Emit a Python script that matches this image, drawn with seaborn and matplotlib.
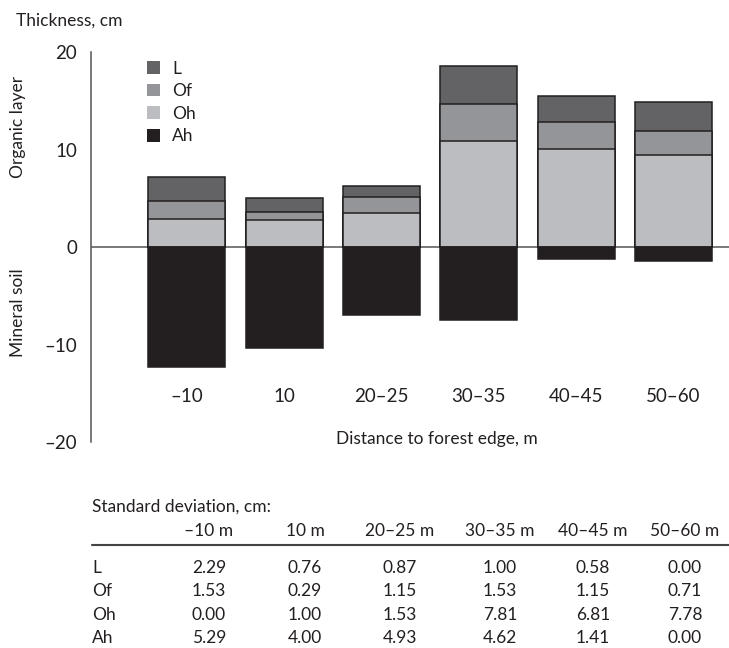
import matplotlib
matplotlib.use("Agg")
import matplotlib.pyplot as plt
import seaborn as sns
import numpy as np
import pandas as pd
from matplotlib.patches import Patch
from matplotlib.lines import Line2D

# ---- data ----
categories = ["–10", "10", "20–25", "30–35", "40–45", "50–60"]
layer_L = [2.45, 1.35, 1.15, 3.9, 2.7, 3.0]
layer_Of = [1.8, 0.85, 1.65, 3.8, 2.7, 2.5]
layer_Oh = [2.9, 2.8, 3.5, 10.9, 10.1, 9.4]
layer_Ah = [-12.25, -10.3, -6.9, -7.5, -1.2, -1.4]

sd_headers = ["–10 m", "10 m", "20–25 m", "30–35 m", "40–45 m", "50–60 m"]
sd_rows = ["L", "Of", "Oh", "Ah"]
sd_L = ["2.29", "0.76", "0.87", "1.00", "0.58", "0.00"]
sd_Of = ["1.53", "0.29", "1.15", "1.53", "1.15", "0.71"]
sd_Oh = ["0.00", "1.00", "1.53", "7.81", "6.81", "7.78"]
sd_Ah = ["5.29", "4.00", "4.93", "4.62", "1.41", "0.00"]

colors = {"L": "#636365", "Of": "#939598", "Oh": "#bcbdc0", "Ah": "#231f20"}
edge = "#231f20"

sns.set_theme(style="white")
plt.rcParams["font.family"] = ["Lato", "DejaVu Sans"]
txt_color = "#231f20"

W, H = 729, 648
fig = plt.figure(figsize=(W / 100, H / 100), dpi=100)

ax_left, ax_right = 91, 729
ax_top, ax_bot = 51.9, 442.4
ax = fig.add_axes([ax_left / W, 1 - ax_bot / H, (ax_right - ax_left) / W, (ax_bot - ax_top) / H])

df = pd.DataFrame({
    "cat": categories,
    "L": layer_L, "Of": layer_Of, "Oh": layer_Oh, "Ah": layer_Ah,
})
df["top_L"] = df["Oh"] + df["Of"] + df["L"]
df["top_Of"] = df["Oh"] + df["Of"]
df["top_Oh"] = df["Oh"]

bw = 0.79
for col, key in [("top_L", "L"), ("top_Of", "Of"), ("top_Oh", "Oh"), ("Ah", "Ah")]:
    sns.barplot(data=df, x="cat", y=col, order=categories, color=colors[key],
                saturation=1, width=bw, edgecolor=edge, linewidth=1.1, ax=ax, zorder=2)

ax.axhline(0, color="#555555", lw=1.1, zorder=1)

ax.set_ylim(-20, 20)
ax.set_xlim(-0.985, 5.57)
ax.set_yticks([-20, -10, 0, 10, 20])
ax.set_yticklabels(["–20", "–10", "0", "10", "20"])
ax.tick_params(axis="y", length=0, pad=10, labelsize=13.5, labelcolor=txt_color)
ax.tick_params(axis="x", length=0, pad=-39, labelsize=13.5, labelcolor=txt_color)
ax.set_ylabel("")
ax.set_xlabel("Distance to forest edge, m", fontsize=12.5, color=txt_color)
ax.xaxis.set_label_coords((437 - ax_left) / (ax_right - ax_left), 0.028)

for s in ["top", "right", "bottom"]:
    ax.spines[s].set_visible(False)
ax.spines["left"].set_color("#555555")
ax.spines["left"].set_linewidth(1.1)

handles = [Patch(facecolor=colors[k], edgecolor="none", label=k) for k in ["L", "Of", "Oh", "Ah"]]
ax.legend(handles=handles, loc="upper left", bbox_to_anchor=(147 / W, 1 - 60.5 / H),
          bbox_transform=fig.transFigure, frameon=False, fontsize=12.5,
          handlelength=0.76, handleheight=0.76, handletextpad=0.7,
          labelspacing=0.38, borderpad=0, borderaxespad=0,
          labelcolor=txt_color)

fig.text(16 / W, 1 - 21 / H, "Thickness, cm", ha="left", va="center", fontsize=12.5, color=txt_color)
fig.text(18 / W, 1 - 127 / H, "Organic layer", ha="center", va="center", rotation=90, fontsize=12.5, color=txt_color)
fig.text(18 / W, 1 - 313 / H, "Mineral soil", ha="center", va="center", rotation=90, fontsize=12.5, color=txt_color)

# ---- standard deviation table ----
col_x = [209, 305, 400, 500, 593, 685]
fig.text(92 / W, 1 - 507 / H, "Standard deviation, cm:", ha="left", va="center", fontsize=12.5, color=txt_color)
for x, h in zip(col_x, sd_headers):
    fig.text(x / W, 1 - 531 / H, h, ha="center", va="center", fontsize=12.5, color=txt_color)
fig.add_artist(Line2D([92 / W, 729 / W], [1 - 545 / H, 1 - 545 / H], transform=fig.transFigure,
                      color="#444444", lw=1.5))
row_y = [568, 591, 615, 638]
for y, name, vals in zip(row_y, sd_rows, [sd_L, sd_Of, sd_Oh, sd_Ah]):
    fig.text(92 / W, 1 - y / H, name, ha="left", va="center", fontsize=12.5, color=txt_color)
    for x, v in zip(col_x, vals):
        fig.text(x / W, 1 - y / H, v, ha="center", va="center", fontsize=12.5, color=txt_color)

fig.savefig("out.png", dpi=100)
